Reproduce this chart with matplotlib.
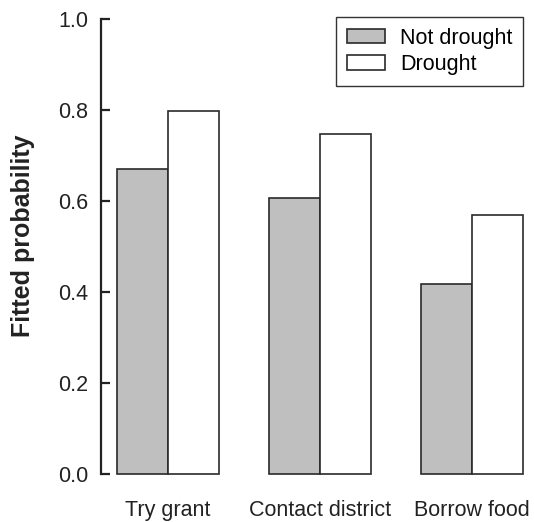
import numpy as np
import matplotlib.pyplot as plt

plt.rcParams['font.family'] = ['Liberation Sans', 'DejaVu Sans']

categories = ['Try grant', 'Contact district', 'Borrow food']
not_drought = [0.670, 0.607, 0.418]
drought = [0.798, 0.747, 0.569]
y_ticks = [0.0, 0.2, 0.4, 0.6, 0.8, 1.0]

W, H = 534, 522
fig = plt.figure(figsize=(W / 100, H / 100), dpi=100)
# axes placed in pixel terms: left spine at x=101, y range -0.04..1.04 over 0.8..492 px
ax = fig.add_axes([101 / W, (H - 492) / H, (W - 101) / W, (492 - 0.8) / H])

# R barplot style positions: group of 2 unit-width bars, 1 unit gap
group_start = np.array([1, 4, 7])
ax.bar(group_start + 0.5, not_drought, width=1.0, color='#bfbfbf',
       edgecolor='#2a2a2a', linewidth=1.2, label='Not drought')
ax.bar(group_start + 1.5, drought, width=1.0, color='white',
       edgecolor='#2a2a2a', linewidth=1.2, label='Drought')

ax.set_xlim(0.68, 0.68 + (W - 101) / 50.7)
ax.set_ylim(-0.04, 1.04)

for s in ['top', 'right', 'bottom']:
    ax.spines[s].set_visible(False)
ax.spines['left'].set_bounds(0, 1)
ax.spines['left'].set_linewidth(1.6)
ax.spines['left'].set_color('#222222')

ax.set_yticks(y_ticks)
ax.set_yticklabels([f'{v:.1f}' for v in y_ticks])
ax.tick_params(axis='y', direction='in', length=6.5, width=1.6, color='#222222',
               labelsize=15.5, pad=9, labelcolor='#222222')
ax.set_xticks(group_start + 1.0)
ax.set_xticklabels(categories)
ax.tick_params(axis='x', length=0, labelsize=15.5, pad=6, labelcolor='#222222')

ax.set_ylabel('Fitted probability', fontsize=18, fontweight='bold', color='#222222')
ax.yaxis.set_label_coords((35 - 101) / (W - 101), (492 - 236) / 491.2)

leg = ax.legend(loc='upper right', bbox_to_anchor=(523 / W, 1 - 17 / H),
                bbox_transform=fig.transFigure, fontsize=15.5, frameon=True,
                fancybox=False, edgecolor='#333333', framealpha=1,
                handlelength=1.75, handleheight=0.65, handletextpad=0.7,
                labelspacing=0.25, borderpad=0.5, borderaxespad=0)
leg.get_frame().set_linewidth(1.0)

fig.savefig('out.png', dpi=100)
